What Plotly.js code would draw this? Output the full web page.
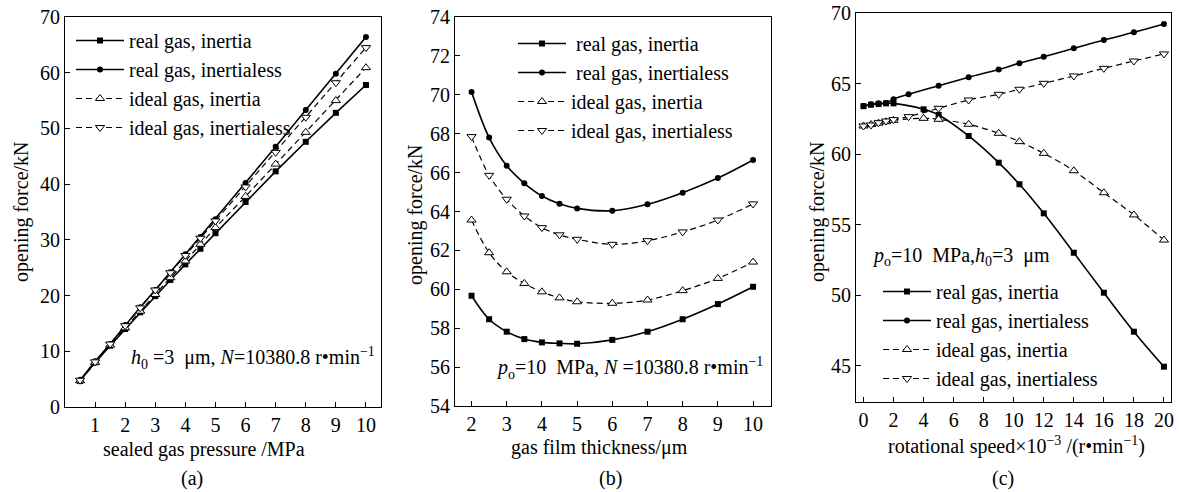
<!DOCTYPE html>
<html>
<head>
<meta charset="utf-8">
<script src="https://cdn.plot.ly/plotly-3.0.1.min.js"></script>
<style>html,body{margin:0;padding:0;background:#fff;}#chart{width:1179px;height:492px;}</style>
</head>
<body>
<div id="chart"></div>
<script>
// ---------- Panel (a): sealed gas pressure ----------
const pressureA = [0.5, 1, 1.5, 2, 2.5, 3, 3.5, 4, 4.5, 5, 6, 7, 8, 9, 10];
const aRealInertia     = [4.7, 8.0, 11.0, 14.0, 17.0, 19.9, 22.8, 25.6, 28.4, 31.2, 36.8, 42.3, 47.6, 52.8, 57.8];
const aRealInertialess = [4.8, 8.2, 11.3, 14.7, 17.9, 21.0, 24.2, 27.4, 30.5, 33.7, 40.2, 46.7, 53.3, 59.8, 66.4];
const aIdealInertia    = [4.7, 8.0, 11.1, 14.2, 17.2, 20.2, 23.2, 26.2, 29.2, 32.2, 37.8, 43.6, 49.3, 55.0, 60.9];
const aIdealInertialess= [4.8, 8.1, 11.3, 14.6, 17.8, 21.0, 24.1, 27.2, 30.3, 33.4, 39.5, 45.7, 52.0, 58.2, 64.5];

// ---------- Panel (b): gas film thickness ----------
const thicknessB = [2, 2.5, 3, 3.5, 4, 4.5, 5, 6, 7, 8, 9, 10];
const bRealInertia     = [59.67, 58.46, 57.82, 57.44, 57.27, 57.22, 57.20, 57.40, 57.82, 58.46, 59.24, 60.13];
const bRealInertialess = [70.15, 67.80, 66.35, 65.45, 64.80, 64.40, 64.16, 64.04, 64.37, 64.97, 65.72, 66.65];
const bIdealInertia    = [63.56, 61.88, 60.90, 60.30, 59.87, 59.56, 59.36, 59.28, 59.45, 59.93, 60.56, 61.40];
const bIdealInertialess= [67.85, 65.86, 64.63, 63.77, 63.17, 62.80, 62.57, 62.31, 62.50, 62.95, 63.56, 64.39];

// ---------- Panel (c): rotational speed ×10^-3 ----------
const speedRealInertia      = [0, 0.5, 1, 1.5, 2, 4, 5, 7, 9, 10.38, 12, 14, 16, 18, 20];
const cRealInertia          = [63.40, 63.50, 63.55, 63.60, 63.60, 63.18, 62.78, 61.29, 59.40, 57.87, 55.81, 53.02, 50.19, 47.43, 44.95];
const speedRealInertialess  = [0, 0.5, 1, 1.5, 2, 3, 5, 7, 9, 10.38, 12, 14, 16, 18, 20];
const cRealInertialess      = [63.42, 63.54, 63.60, 63.62, 63.90, 64.24, 64.85, 65.45, 66.00, 66.44, 66.90, 67.50, 68.09, 68.63, 69.22];
const speedIdealInertia     = [0, 0.5, 1, 1.5, 2, 4, 5, 7, 9, 10.38, 12, 14, 16, 18, 20];
const cIdealInertia         = [62.00, 62.10, 62.20, 62.30, 62.40, 62.54, 62.47, 62.12, 61.48, 60.89, 60.06, 58.83, 57.27, 55.70, 53.92];
const speedIdealInertialess = [0, 0.5, 1, 1.5, 2, 3, 5, 7, 9, 10.38, 12, 14, 16, 18, 20];
const cIdealInertialess     = [62.00, 62.07, 62.23, 62.35, 62.45, 62.66, 63.25, 63.84, 64.24, 64.60, 65.02, 65.54, 66.08, 66.60, 67.10];

const seriesNames = ['real gas, inertia', 'real gas, inertialess', 'ideal gas, inertia', 'ideal gas, inertialess'];
const namesB = [' real gas, inertia', ' real gas, inertialess', 'ideal gas, inertia', 'ideal gas, inertialess'];

const xTicksA = [1,2,3,4,5,6,7,8,9,10];
const yTicksA = [0,10,20,30,40,50,60,70];
const xTicksB = [2,3,4,5,6,7,8,9,10];
const yTicksB = [54,56,58,60,62,64,66,68,70,72,74];
const xTicksC = [0,2,4,6,8,10,12,14,16,18,20];
const yTicksC = [45,50,55,60,65,70];

const FONT = '"Liberation Serif", "Times New Roman", serif';
const W = 1179, H = 492;

const styles = [
  {line:{color:'black', width:1.6, dash:'solid'}, marker:{symbol:'square', size:6, color:'black'}},
  {line:{color:'black', width:1.6, dash:'solid'}, marker:{symbol:'circle', size:6, color:'black'}},
  {line:{color:'black', width:1.2, dash:'6px,4px'}, marker:{symbol:'triangle-up', size:8, color:'white', line:{color:'black', width:1}}},
  {line:{color:'black', width:1.2, dash:'6px,4px'}, marker:{symbol:'triangle-down', size:8, color:'white', line:{color:'black', width:1}}}
];

function mk(x, y, i, ax, leg, name, shape) {
  return {
    x: x, y: y, name: name, type: 'scatter', mode: 'lines+markers',
    xaxis: 'x' + ax, yaxis: 'y' + ax, legend: leg,
    line: Object.assign({shape: shape}, styles[i].line),
    marker: styles[i].marker,
    cliponaxis: false
  };
}

const data = [
  mk(pressureA, aRealInertia, 0, '', 'legend', seriesNames[0], 'linear'),
  mk(pressureA, aRealInertialess, 1, '', 'legend', seriesNames[1], 'linear'),
  mk(pressureA, aIdealInertia, 2, '', 'legend', seriesNames[2], 'linear'),
  mk(pressureA, aIdealInertialess, 3, '', 'legend', seriesNames[3], 'linear'),
  mk(thicknessB, bRealInertia, 0, '2', 'legend2', namesB[0], 'spline'),
  mk(thicknessB, bRealInertialess, 1, '2', 'legend2', namesB[1], 'spline'),
  mk(thicknessB, bIdealInertia, 2, '2', 'legend2', namesB[2], 'spline'),
  mk(thicknessB, bIdealInertialess, 3, '2', 'legend2', namesB[3], 'spline'),
  mk(speedRealInertia, cRealInertia, 0, '3', 'legend3', seriesNames[0], 'spline'),
  mk(speedRealInertialess, cRealInertialess, 1, '3', 'legend3', seriesNames[1], 'spline'),
  mk(speedIdealInertia, cIdealInertia, 2, '3', 'legend3', seriesNames[2], 'spline'),
  mk(speedIdealInertialess, cIdealInertialess, 3, '3', 'legend3', seriesNames[3], 'spline')
];

function axisBase(extra) {
  return Object.assign({
    showline: true, mirror: true, linecolor: 'black', linewidth: 1,
    ticks: 'inside', ticklen: 5, tickcolor: 'black', tickwidth: 1,
    showgrid: false, zeroline: false, tickmode: 'array',
    tickfont: {family: FONT, size: 20, color: 'black'}, fixedrange: true
  }, extra);
}
const px = v => v / W;
const py = v => 1 - v / H;

function legendAt(x, y) {
  return {x: px(x), y: py(y), xanchor: 'left', yanchor: 'top', bgcolor: 'rgba(0,0,0,0)',
    font: {family: FONT, size: 20, color: 'black'}, itemwidth: 48, tracegroupgap: 0};
}

const annFont = {family: FONT, size: 20, color: 'black'};
function ann(text, x, y, extra) {
  return Object.assign({text: text, xref: 'paper', yref: 'paper', x: px(x), y: py(y), showarrow: false,
    font: annFont, xanchor: 'center', yanchor: 'middle'}, extra || {});
}

const layout = {
  width: W, height: H, margin: {l: 0, r: 0, t: 0, b: 0},
  paper_bgcolor: 'white', plot_bgcolor: 'white', showlegend: true,
  xaxis:  axisBase({domain: [px(65), px(381)], range: [0, 10.5], tickvals: xTicksA, anchor: 'y'}),
  yaxis:  axisBase({domain: [1 - 407/H, 1 - 17/H], range: [0, 70], tickvals: yTicksA, anchor: 'x'}),
  xaxis2: axisBase({domain: [px(455), px(771)], range: [1.53, 10.51], tickvals: xTicksB, anchor: 'y2'}),
  yaxis2: axisBase({domain: [1 - 406/H, 1 - 17/H], range: [54, 74], tickvals: yTicksB, anchor: 'x2'}),
  xaxis3: axisBase({domain: [px(856), px(1171)], range: [-0.5, 20.47], tickvals: xTicksC, anchor: 'y3'}),
  yaxis3: axisBase({domain: [1 - 402/H, 1 - 13/H], range: [42.45, 70], tickvals: yTicksC, anchor: 'x3'}),
  legend:  legendAt(71, 21),
  legend2: legendAt(513, 24),
  legend3: legendAt(878, 272),
  annotations: [
    ann('sealed gas pressure /MPa', 204, 449),
    ann('(a)', 192, 478),
    ann('opening force/kN', 21, 212, {textangle: -90}),
    ann('<i>h</i><sub>0</sub> =3  μm, <i>N</i>=10380.8 r•min<sup>−1</sup>', 377, 358, {xanchor: 'right'}),
    ann('gas film thickness/μm', 599, 447),
    ann('(b)', 610, 478),
    ann('opening force/kN', 415, 215, {textangle: -90}),
    ann('<i>p</i><sub>o</sub>=10  MPa, <i>N</i> =10380.8 r•min<sup>−1</sup>', 765, 368, {xanchor: 'right'}),
    ann('rotational speed×10<sup>−3</sup> /(r•min<sup>−1</sup>)', 1016, 445),
    ann('(c)', 1003, 478),
    ann('opening force/kN', 817, 212, {textangle: -90}),
    ann('<i>p</i><sub>o</sub>=10  MPa,<i>h</i><sub>0</sub>=3  μm', 870, 256, {xanchor: 'left'})
  ]
};

Plotly.newPlot('chart', data, layout, {staticPlot: true, displayModeBar: false});
</script>
</body>
</html>
